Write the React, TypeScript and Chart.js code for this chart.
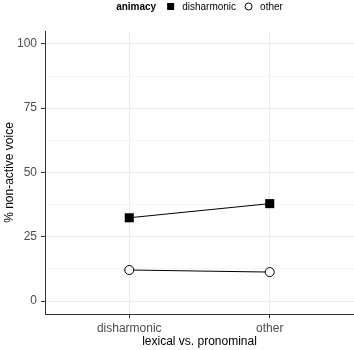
import React, { useEffect, useRef } from "react";
import { Chart, registerables } from "chart.js";

Chart.register(...registerables);

const categories = ["disharmonic", "other"];
const seriesNames = ["disharmonic", "other"];
const disharmonicValues = [32.4, 37.9];
const otherValues = [12.1, 11.3];
const yMajorTicks = [0, 25, 50, 75, 100];
const yMinorTicks = [12.5, 37.5, 62.5, 87.5];
const legendTitle = "animacy";
const xTitle = "lexical vs. pronominal";
const yTitle = "% non-active voice";

const FONT = "'Liberation Sans', Arial, Helvetica, sans-serif";

const legendPlugin = {
  id: "ggLegend",
  afterDraw(chart: any) {
    const ctx = chart.ctx;
    const ca = chart.chartArea;
    ctx.save();
    ctx.textBaseline = "middle";
    const y = 7;
    ctx.font = `bold 10px ${FONT}`;
    const tW = ctx.measureText(legendTitle).width;
    ctx.font = `10px ${FONT}`;
    const w1 = ctx.measureText(seriesNames[0]).width;
    const w2 = ctx.measureText(seriesNames[1]).width;
    const mk = 7;
    const total = tW + 11 + mk + 8 + w1 + 9 + mk + 8 + w2;
    let x = (ca.left + ca.right) / 2 - total / 2;
    ctx.fillStyle = "#000";
    ctx.font = `bold 10px ${FONT}`;
    ctx.fillText(legendTitle, x, y);
    x += tW + 11;
    ctx.fillRect(x, y - mk / 2 - 0.5, mk, mk);
    x += mk + 8;
    ctx.font = `10px ${FONT}`;
    ctx.fillText(seriesNames[0], x, y);
    x += w1 + 9;
    ctx.beginPath();
    ctx.arc(x + mk / 2, y - 0.5, mk / 2, 0, Math.PI * 2);
    ctx.fillStyle = "#fff";
    ctx.fill();
    ctx.strokeStyle = "#000";
    ctx.lineWidth = 1;
    ctx.stroke();
    x += mk + 8;
    ctx.fillStyle = "#000";
    ctx.fillText(seriesNames[1], x, y);
    ctx.restore();
  },
};

export default function App() {
  const ref = useRef<HTMLCanvasElement>(null);
  useEffect(() => {
    document.body.style.margin = "0";
    const toXY = (vals: number[]) => vals.map((v, i) => ({ x: i + 1, y: v }));
    const chart = new Chart(ref.current!, {
      type: "line",
      data: {
        datasets: [
          {
            label: seriesNames[0],
            data: toXY(disharmonicValues),
            borderColor: "#000",
            borderWidth: 1,
            backgroundColor: "#000",
            pointStyle: "rect",
            pointRadius: 6.4,
            pointBorderWidth: 0,
            pointBackgroundColor: "#000",
          },
          {
            label: seriesNames[1],
            data: toXY(otherValues),
            borderColor: "#000",
            borderWidth: 1,
            pointStyle: "circle",
            pointRadius: 4.5,
            pointBorderWidth: 1,
            pointBorderColor: "#000",
            pointBackgroundColor: "#fff",
          },
        ],
      },
      options: {
        animation: false,
        responsive: true,
        maintainAspectRatio: false,
        layout: { autoPadding: false, padding: { top: 31, right: 0, left: 0, bottom: 0 } },
        plugins: { legend: { display: false }, tooltip: { enabled: false } },
        scales: {
          x: {
            type: "linear",
            min: 0.4,
            max: 2.6,
            afterBuildTicks: (s: any) => {
              s.ticks = categories.map((_, i) => ({ value: i + 1 }));
            },
            afterFit: (s: any) => {
              s.height = 36;
              s.paddingLeft = 0;
              s.paddingRight = 0;
            },
            ticks: {
              autoSkip: false,
              maxRotation: 0,
              padding: 3,
              color: "#4d4d4d",
              font: { family: FONT, size: 12 },
              callback: (v: any) => categories[Number(v) - 1] ?? "",
            },
            grid: { color: "#ebebeb", tickColor: "#333", tickLength: 4, lineWidth: 1 },
            border: { color: "#333", width: 1 },
            title: {
              display: true,
              text: xTitle,
              color: "#000",
              font: { family: FONT, size: 12 },
              padding: { top: 0, bottom: 1 },
            },
          },
          y: {
            type: "linear",
            min: -5,
            max: 105,
            afterBuildTicks: (s: any) => {
              s.ticks = [...yMajorTicks, ...yMinorTicks]
                .sort((a, b) => a - b)
                .map((v) => ({ value: v }));
            },
            afterFit: (s: any) => {
              s.width = 45;
              s.paddingTop = 0;
              s.paddingBottom = 0;
            },
            ticks: {
              autoSkip: false,
              padding: 4,
              color: "#4d4d4d",
              font: { family: FONT, size: 12 },
              callback: (v: any) => (yMajorTicks.includes(Number(v)) ? String(v) : ""),
            },
            grid: {
              color: (c: any) =>
                c.tick && yMajorTicks.includes(c.tick.value) ? "#ebebeb" : "#f5f5f5",
              tickColor: (c: any) =>
                c.tick && yMajorTicks.includes(c.tick.value) ? "#333" : "rgba(0,0,0,0)",
              tickLength: 4,
              lineWidth: 1,
            },
            border: { color: "#333", width: 1 },
            title: {
              display: true,
              text: yTitle,
              color: "#000",
              font: { family: FONT, size: 12 },
              padding: { top: 2, bottom: 0 },
            },
          },
        },
      },
      plugins: [legendPlugin],
    } as any);
    return () => chart.destroy();
  }, []);
  return (
    <div style={{ width: 354, height: 350, position: "relative" }}>
      <canvas ref={ref} />
    </div>
  );
}
